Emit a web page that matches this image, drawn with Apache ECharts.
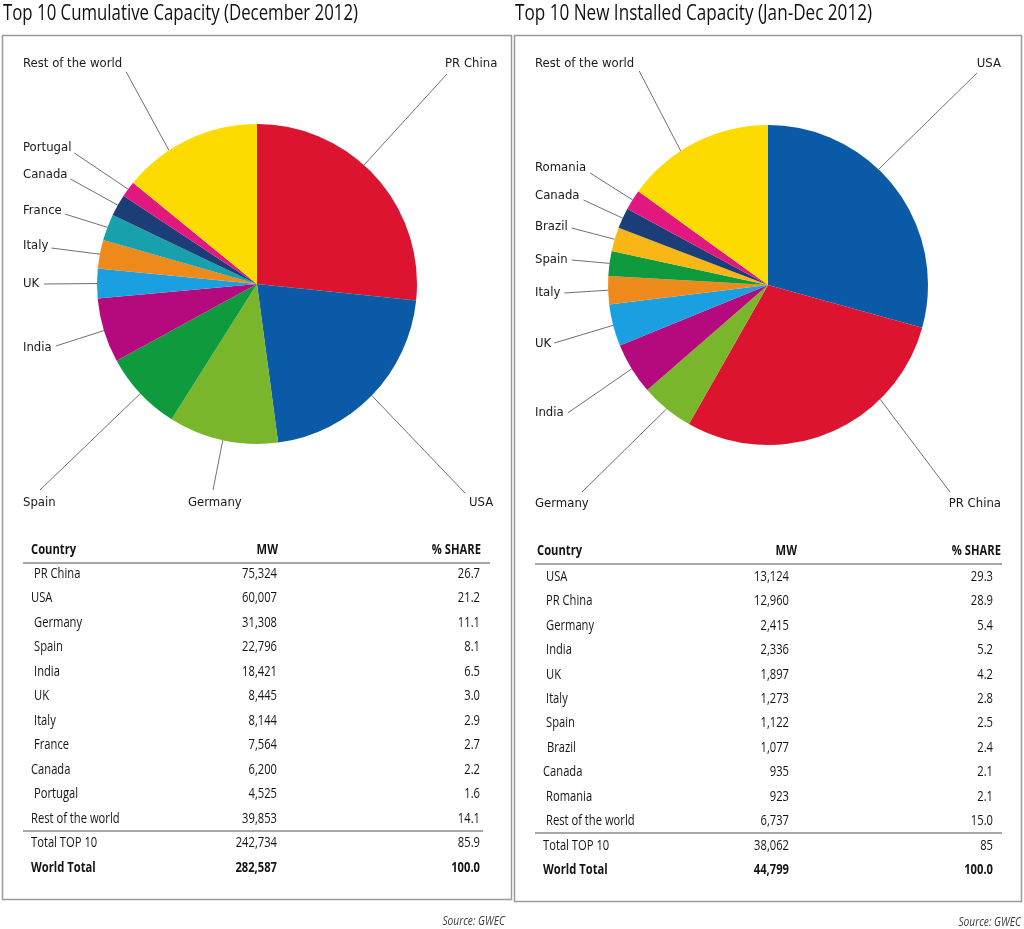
<!DOCTYPE html>
<html>
<head>
<meta charset="utf-8">
<script src="https://cdn.jsdelivr.net/npm/echarts@6/dist/echarts.min.js"></script>
<style>
html,body{margin:0;padding:0;background:#fff;}
#main{width:1024px;height:929px;}
</style>
</head>
<body>
<div id="main"></div>
<script>
// ---------- DATA ----------
const titleLeft = 'Top 10 Cumulative Capacity (December 2012)';
const titleRight = 'Top 10 New Installed Capacity (Jan-Dec 2012)';

const countriesLeft = ['PR China','USA','Germany','Spain','India','UK','Italy','France','Canada','Portugal','Rest of the world'];
const mwLeft = [75324, 60007, 31308, 22796, 18421, 8445, 8144, 7564, 6200, 4525, 39853];
const shareLeft = ['26.7','21.2','11.1','8.1','6.5','3.0','2.9','2.7','2.2','1.6','14.1'];
const totalsLeftLabels = ['Total TOP 10','World Total'];
const totalsLeftMW = [242734, 282587];
const totalsLeftShare = ['85.9','100.0'];

const countriesRight = ['USA','PR China','Germany','India','UK','Italy','Spain','Brazil','Canada','Romania','Rest of the world'];
const mwRight = [13124, 12960, 2415, 2336, 1897, 1273, 1122, 1077, 935, 923, 6737];
const shareRight = ['29.3','28.9','5.4','5.2','4.2','2.8','2.5','2.4','2.1','2.1','15.0'];
const totalsRightLabels = ['Total TOP 10','World Total'];
const totalsRightMW = [38062, 44799];
const totalsRightShare = ['85','100.0'];

const tableHeaders = ['Country','MW','% SHARE'];
const sourceText = 'Source: GWEC';

// ---------- STYLE / LAYOUT ----------
const LABEL_FONT = '"DejaVu Sans Condensed", "Liberation Sans Narrow", sans-serif';
const TEXT_FONT = '"Open Sans", "Liberation Sans", sans-serif';
const SX = 0.8; // horizontal condensing for graphic text
const colorMap = {
  'PR China':'#dc1430','USA':'#0a5aa8','Germany':'#79b62b','Spain':'#0e9a3d','India':'#b40a7d',
  'UK':'#1a9fe0','Italy':'#ee8a1c','France':'#18a0ad','Canada':'#1b3e78','Portugal':'#e2177f',
  'Romania':'#e2177f','Brazil':'#f8b617','Rest of the world':'#fedb00'
};
// label anchor (x,y,align); line end either fixed (ex,ey) or right of text (side:'r', gap, dy); da = start angle shift (deg)
const pieGeomLeft = { center: [257, 284], radius: 160 };
const pieGeomRight = { center: [768, 285], radius: 160 };
const labelPosLeft = {
  'PR China':{x:445,y:64,align:'left',ex:447,ey:74,da:-6},
  'USA':{x:469,y:503,align:'left',ex:465,ey:493},
  'Germany':{x:188,y:503,align:'left',ex:213,ey:490},
  'Spain':{x:23,y:503,align:'left',ex:40,ey:490},
  'India':{x:23,y:348,align:'left',side:'r',gap:4,dy:-2},
  'UK':{x:23,y:284,align:'left',side:'r',gap:5,dy:0},
  'Italy':{x:23,y:246,align:'left',side:'r',gap:3,dy:2},
  'France':{x:23,y:211,align:'left',side:'r',gap:3,dy:3},
  'Canada':{x:23,y:175,align:'left',side:'r',gap:3,dy:4},
  'Portugal':{x:23,y:148,align:'left',side:'r',gap:3,dy:5},
  'Rest of the world':{x:23,y:64,align:'left',side:'r',gap:4,dy:8,da:-8}
};
const labelPosRight = {
  'USA':{x:1001,y:64,align:'right',ex:977,ey:73,da:-9},
  'PR China':{x:1001,y:504,align:'right',ex:950,ey:492,da:-22},
  'Germany':{x:535,y:504,align:'left',ex:582,ey:492},
  'India':{x:535,y:413,align:'left',side:'r',gap:4,dy:0},
  'UK':{x:535,y:344,align:'left',side:'r',gap:3,dy:-1},
  'Italy':{x:535,y:293,align:'left',side:'r',gap:4,dy:0},
  'Spain':{x:535,y:260,align:'left',side:'r',gap:4,dy:0},
  'Brazil':{x:535,y:227,align:'left',side:'r',gap:4,dy:1},
  'Canada':{x:535,y:196,align:'left',side:'r',gap:4,dy:4},
  'Romania':{x:535,y:168,align:'left',side:'r',gap:4,dy:5},
  'Rest of the world':{x:535,y:64,align:'left',side:'r',gap:5,dy:7,da:-6}
};

const fmt = v => v.toLocaleString('en-US');

function pieData(names, values) {
  return names.map((n, i) => ({ name: n, value: values[i], itemStyle: { color: colorMap[n] } }));
}

function makeLayout(posMap, geom) {
  return function (params) {
    const cfg = posMap[params.text];
    if (!cfg) return {};
    let p0 = (params.labelLinePoints && params.labelLinePoints[0]) || null;
    let ex = cfg.ex, ey = cfg.ey;
    if (cfg.side === 'r') {
      const w = params.labelRect ? params.labelRect.width : 40;
      ex = cfg.x + w + cfg.gap;
      ey = cfg.y + cfg.dy;
    }
    if (!p0) p0 = [ex, ey];
    if (cfg.da) {
      const cx = geom.center[0], cy = geom.center[1];
      const th = Math.atan2(p0[0] - cx, -(p0[1] - cy)) + cfg.da * Math.PI / 180;
      p0 = [cx + geom.radius * Math.sin(th), cy - geom.radius * Math.cos(th)];
    }
    const mid = [(p0[0] + ex) / 2, (p0[1] + ey) / 2];
    return {
      x: cfg.x, y: cfg.y, align: cfg.align, verticalAlign: 'middle',
      labelLinePoints: [p0, mid, [ex, ey]]
    };
  };
}

function pieSeries(names, values, geom, posMap) {
  return {
    type: 'pie',
    center: geom.center,
    radius: geom.radius,
    startAngle: 90,
    clockwise: true,
    avoidLabelOverlap: false,
    animation: false,
    silent: true,
    data: pieData(names, values),
    itemStyle: { borderWidth: 0 },
    label: {
      show: true, position: 'outside', formatter: '{b}',
      fontFamily: LABEL_FONT, fontSize: 13, color: '#1a1a1a'
    },
    labelLine: { show: true, length: 20, length2: 20, smooth: false, lineStyle: { color: '#707070', width: 1 } },
    labelLayout: makeLayout(posMap, geom)
  };
}

// measure helper for fitting titles
const mctx = document.createElement('canvas').getContext('2d');
function fitScale(txt, font, target) {
  mctx.font = font;
  const w = mctx.measureText(txt).width;
  return w > 0 ? target / w : SX;
}

function textEl(txt, x, y, align, bold, size, sx, fill, italic) {
  return {
    type: 'text', x: x, y: y, silent: true, scaleX: sx || SX,
    style: {
      text: txt, fill: fill || '#141414',
      font: (italic ? 'italic ' : '') + (bold ? 'bold ' : '') + (size || 14) + 'px ' + TEXT_FONT,
      align: align, verticalAlign: 'middle',
      textAlign: align, textVerticalAlign: 'middle'
    }
  };
}
function lineEl(x1, y1, x2, y2, color, w) {
  return { type: 'line', silent: true, shape: { x1, y1, x2, y2 }, style: { stroke: color, lineWidth: w } };
}

function buildTable(t) {
  const els = [];
  els.push(textEl(tableHeaders[0], t.cx0, t.hy, 'left', true));
  els.push(textEl(tableHeaders[1], t.mwHx, t.hy, 'right', true));
  els.push(textEl(tableHeaders[2], t.shHx, t.hy, 'right', true));
  els.push(lineEl(t.lx1, t.hLine, t.lx2, t.hLine, '#8a8a8a', 1.5));
  t.names.forEach((n, i) => {
    const y = t.row0 + i * t.step;
    els.push(textEl(n, t.cx0 + t.indent[i], y, 'left', false));
    els.push(textEl(fmt(t.mw[i]), t.mwx, y, 'right', false));
    els.push(textEl(t.share[i], t.shx, y, 'right', false));
  });
  els.push(lineEl(t.lx1, t.rLine, t.lx2b, t.rLine, '#8a8a8a', 1.5));
  t.totLabels.forEach((n, i) => {
    const y = t.tot0 + i * t.totStep;
    const bold = i === 1;
    els.push(textEl(n, t.cx0 + t.totIndent, y, 'left', bold));
    els.push(textEl(fmt(t.totMW[i]), t.mwx, y, 'right', bold));
    els.push(textEl(t.totShare[i], t.shx, y, 'right', bold));
  });
  return els;
}

const TITLE_SIZE = 21;
const titleFont = TITLE_SIZE + 'px ' + TEXT_FONT;

const graphics = [
  { type: 'rect', silent: true, shape: { x: 2.5, y: 35.5, width: 509, height: 864 }, style: { fill: 'none', stroke: '#9a9a9a', lineWidth: 1.5 } },
  { type: 'rect', silent: true, shape: { x: 514.5, y: 35.5, width: 507, height: 866 }, style: { fill: 'none', stroke: '#9a9a9a', lineWidth: 1.5 } },
  textEl(titleLeft, 3, 14, 'left', false, TITLE_SIZE, fitScale(titleLeft, titleFont, 355), '#111'),
  textEl(titleRight, 515, 14, 'left', false, TITLE_SIZE, fitScale(titleRight, titleFont, 357), '#111')
].concat(buildTable({
  names: countriesLeft, mw: mwLeft, share: shareLeft,
  totLabels: totalsLeftLabels, totMW: totalsLeftMW, totShare: totalsLeftShare,
  cx0: 31, indent: [3,0,3,3,3,3,3,3,0,3,0], totIndent: 0,
  mwHx: 278, shHx: 481, mwx: 277, shx: 480,
  hy: 550, hLine: 563, row0: 574, step: 24.5, rLine: 831, lx1: 23, lx2: 490, lx2b: 483,
  tot0: 843, totStep: 25
})).concat(buildTable({
  names: countriesRight, mw: mwRight, share: shareRight,
  totLabels: totalsRightLabels, totMW: totalsRightMW, totShare: totalsRightShare,
  cx0: 537, indent: [9,9,9,9,9,9,9,10,6,9,9], totIndent: 6,
  mwHx: 797, shHx: 1001, mwx: 789, shx: 993,
  hy: 551, hLine: 564, row0: 577, step: 24.4, rLine: 833, lx1: 535, lx2: 1002, lx2b: 1002,
  tot0: 846, totStep: 24.5
})).concat([
  textEl(sourceText, 505, 922, 'right', false, 12, 0.85, '#3a3a3a', true),
  textEl(sourceText, 1021, 923, 'right', false, 12, 0.85, '#3a3a3a', true)
]);

const chart = echarts.init(document.getElementById('main'), null, { renderer: 'canvas' });
chart.setOption({
  backgroundColor: '#ffffff',
  animation: false,
  series: [
    pieSeries(countriesLeft, mwLeft, pieGeomLeft, labelPosLeft),
    pieSeries(countriesRight, mwRight, pieGeomRight, labelPosRight)
  ],
  graphic: graphics
});
</script>
</body>
</html>
